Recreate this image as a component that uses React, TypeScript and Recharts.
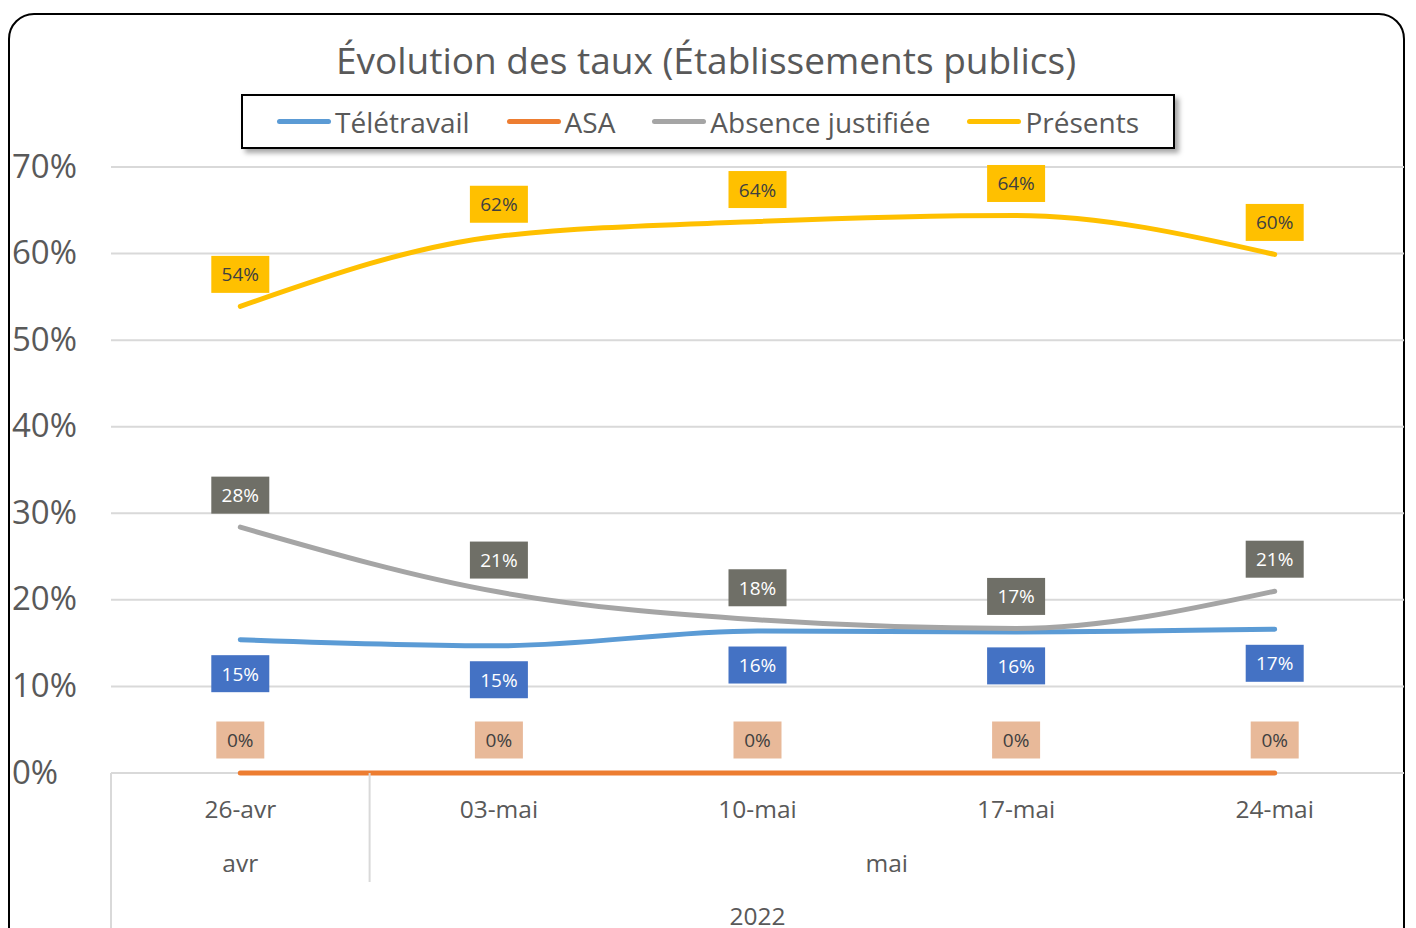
import { LineChart, Line, XAxis, YAxis, CartesianGrid, LabelList } from 'recharts';

const dates = ['26-avr', '03-mai', '10-mai', '17-mai', '24-mai'];
const months = ['avr', 'mai', 'mai', 'mai', 'mai'];
const year = '2022';
const yTicks = [0, 0.1, 0.2, 0.3, 0.4, 0.5, 0.6, 0.7];

const teletravail = [0.154, 0.147, 0.164, 0.163, 0.166];
const asa = [0, 0, 0, 0, 0];
const absence = [0.284, 0.209, 0.177, 0.167, 0.21];
const presents = [0.539, 0.62, 0.637, 0.644, 0.599];

const W = 1416;
const H = 928;
const PLOT_LEFT = 111;
const PLOT_RIGHT = 1404;
const AXIS_Y = 773;
const BAND = (PLOT_RIGHT - PLOT_LEFT) / dates.length;
const FONT = '"Open Sans", "Noto Sans", sans-serif';
const TEXT = '#595959';

const series = [
  { key: 'tele', name: 'Télétravail', color: '#5B9BD5', labelBg: '#4472C4', labelFg: '#FFFFFF', dy: 34 },
  { key: 'asa', name: 'ASA', color: '#ED7D31', labelBg: '#E8B999', labelFg: '#404040', dy: -33 },
  { key: 'abs', name: 'Absence justifiée', color: '#A5A5A5', labelBg: '#6F6F67', labelFg: '#FFFFFF', dy: -32 },
  { key: 'pres', name: 'Présents', color: '#FFC000', labelBg: '#FFC000', labelFg: '#404040', dy: -32 },
];

const data = dates.map((d, i) => ({
  date: d,
  tele: teletravail[i],
  asa: asa[i],
  abs: absence[i],
  pres: presents[i],
}));

const pct = (v: number) => `${Math.round(v * 100)}%`;

const makeLabel = (bg: string, fg: string, dy: number) => (props: any) => {
  const { x, y, value } = props;
  const txt = pct(value);
  const w = txt.length * 10 + 28;
  const h = 37;
  const cy = y + dy;
  return (
    <g>
      <rect x={x - w / 2} y={cy - h / 2} width={w} height={h} fill={bg} />
      <text x={x} y={cy} textAnchor="middle" dominantBaseline="central" fontSize={19} fontFamily={FONT} fill={fg}>
        {txt}
      </text>
    </g>
  );
};

const YTick = (props: any) => {
  const { y, payload } = props;
  return (
    <text x={12} y={y - 2} dominantBaseline="central" fontSize={33} fontFamily={FONT} fill={TEXT}>
      {pct(payload.value)}
    </text>
  );
};

const XTick = (props: any) => {
  const { x, payload, index } = props;
  const parts = [
    <text key="d" x={x} y={AXIS_Y + 35} textAnchor="middle" dominantBaseline="central" fontSize={24.5} fontFamily={FONT} fill={TEXT}>
      {payload.value}
    </text>,
  ];
  const m = months[index];
  if (index === 0 || months[index - 1] !== m) {
    let count = 1;
    while (index + count < months.length && months[index + count] === m) count++;
    const left = x - BAND / 2;
    parts.push(
      <line key="gl" x1={left} x2={left} y1={AXIS_Y} y2={index === 0 ? H : AXIS_Y + 109} stroke="#D9D9D9" strokeWidth={2} />,
      <text key="m" x={x + ((count - 1) * BAND) / 2} y={AXIS_Y + 89} textAnchor="middle" dominantBaseline="central" fontSize={24.5} fontFamily={FONT} fill={TEXT}>
        {m}
      </text>
    );
  }
  if (index === 0) {
    parts.push(
      <text key="y" x={x + ((dates.length - 1) * BAND) / 2} y={AXIS_Y + 142} textAnchor="middle" dominantBaseline="central" fontSize={24.5} fontFamily={FONT} fill={TEXT}>
        {year}
      </text>
    );
  }
  return <g>{parts}</g>;
};

export default function App() {
  return (
    <div style={{ position: 'absolute', left: 0, top: 0, width: W, height: H, overflow: 'hidden', background: '#fff', fontFamily: FONT }}>
      <div
        style={{
          position: 'absolute',
          left: 8,
          top: 13,
          width: 1397,
          height: 960,
          border: '2px solid #000',
          borderRadius: 26,
          boxSizing: 'border-box',
        }}
      />
      <LineChart width={W} height={H} data={data} margin={{ top: 167, right: W - PLOT_RIGHT, bottom: 0, left: 0 }}>
        <CartesianGrid vertical={false} stroke="#D9D9D9" strokeWidth={2} />
        <XAxis
          dataKey="date"
          height={H - AXIS_Y}
          padding={{ left: BAND / 2, right: BAND / 2 }}
          axisLine={false}
          tickLine={false}
          tick={<XTick />}
          interval={0}
        />
        <YAxis width={PLOT_LEFT} domain={[0, 0.7]} ticks={yTicks} axisLine={false} tickLine={false} tick={<YTick />} />
        {series.map((s) => (
          <Line
            key={s.key}
            type="monotone"
            dataKey={s.key}
            name={s.name}
            stroke={s.color}
            strokeWidth={5}
            strokeLinecap="round"
            dot={false}
            activeDot={false}
            isAnimationActive={false}
          >
            <LabelList dataKey={s.key} content={makeLabel(s.labelBg, s.labelFg, s.dy)} />
          </Line>
        ))}
      </LineChart>
      <div
        style={{
          position: 'absolute',
          left: 0,
          top: 35,
          width: 1412,
          textAlign: 'center',
          fontSize: 37,
          color: TEXT,
          lineHeight: '50px',
        }}
      >
        Évolution des taux (Établissements publics)
      </div>
      <div
        style={{
          position: 'absolute',
          left: 241,
          top: 94,
          width: 934,
          height: 55,
          border: '2px solid #000',
          boxSizing: 'border-box',
          background: '#fff',
          boxShadow: '4px 4px 5px rgba(0,0,0,0.35)',
          display: 'flex',
          alignItems: 'center',
          justifyContent: 'center',
          gap: 37,
        }}
      >
        {series.map((s) => (
          <div key={s.key} style={{ display: 'flex', alignItems: 'center', fontSize: 28, color: TEXT }}>
            <span style={{ display: 'inline-block', width: 54, height: 5, borderRadius: 3, background: s.color, marginRight: 4 }} />
            {s.name}
          </div>
        ))}
      </div>
    </div>
  );
}
